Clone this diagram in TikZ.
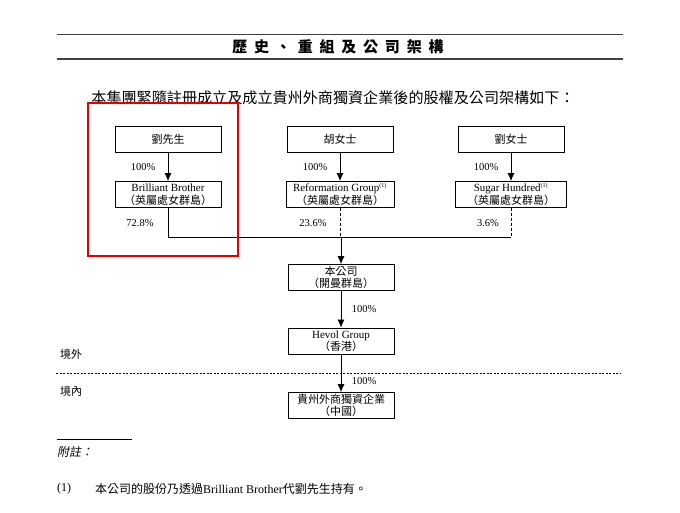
\documentclass[tikz,border=0pt]{standalone}
\usepackage{fontspec}
\setmainfont{Liberation Serif}
\newfontfamily\cjk{Noto Sans CJK TC}
\newfontfamily\cjkit{Noto Sans CJK TC}[FakeSlant=0.2]
\usetikzlibrary{arrows.meta}

\newcommand{\tsp}{\hspace{6.8pt}}
\newcommand{\fnmark}{\textsuperscript{\fontsize{6}{6}\selectfont (1)}}

\tikzset{
  entbox/.style={draw, line width=0.9pt, minimum width=106pt, minimum height=26pt,
    inner sep=1pt, align=center, font=\fontsize{11}{12.5}\selectfont},
  pct/.style={inner sep=0.75pt, font=\fontsize{10.5}{12}\selectfont},
  ownline/.style={line width=0.8pt},
  ownarr/.style={ownline, -{Latex[length=8pt,width=7pt]}},
  ownweak/.style={ownline, dash pattern=on 3pt off 2pt},
}

\begin{document}
\begin{tikzpicture}[x=1pt,y=1pt,yscale=-1]
\useasboundingbox (0,0) rectangle (680,513);

%Straight Lines: header rules
\draw [line width=0.6pt, black!75] (57,34) -- (623,34);
\draw [line width=1.2pt, black!75] (57,59) -- (623,59);

% Text Node
\node (title) at (338,47) {\cjk\bfseries\fontsize{15}{15}\selectfont 歷\tsp 史\tsp 、\tsp 重\tsp 組\tsp 及\tsp 公\tsp 司\tsp 架\tsp 構};
% Text Node
\node (intro) at (333,98) {\cjk\fontsize{15.1}{15.1}\selectfont 本集團緊隨註冊成立及成立貴州外商獨資企業後的股權及公司架構如下：};

%Shape: Rectangle (shareholders)
\node [entbox] (mrliu) at (168,139) {\cjk 劉先生};
\node [entbox] (mshu) at (340,139) {\cjk 胡女士};
\node [entbox] (msliu) at (511,139) {\cjk 劉女士};

%Shape: Rectangle (holding vehicles)
\node [entbox] (bb) at (168,194.5) {Brilliant Brother\\{\cjk （英屬處女群島）}};
\node [entbox, minimum width=108pt] (rg) at (340,194.5) {Reformation Group\fnmark\\{\cjk （英屬處女群島）}};
\node [entbox, minimum width=111pt] (sh) at (511,194.5) {Sugar Hundred\fnmark\\{\cjk （英屬處女群島）}};

%Shape: Rectangle (group companies)
\node [entbox] (co) at (341,277.5) {{\cjk 本公司}\\{\cjk （開曼群島）}};
\node [entbox] (hevol) at (341,341) {Hevol Group\\{\cjk （香港）}};
\node [entbox] (gz) at (341,405.5) {{\cjk 貴州外商獨資企業}\\{\cjk （中國）}};

%Straight Lines
\draw [ownarr] (mrliu) -- (bb);
\draw [ownarr] (mshu) -- (rg);
\draw [ownarr] (msliu) -- (sh);

\coordinate (hline) at (0,237);
\draw [ownline] (bb.south) -- (bb.south |- hline) -- (sh.south |- hline);
\draw [ownweak] (rg.south) -- (rg.south |- hline);
\draw [ownweak] (sh.south) -- (sh.south |- hline);
\draw [ownarr] (co.north |- hline) -- (co.north);
\draw [ownarr] (co) -- (hevol);
\draw [ownarr] (hevol) -- (gz);

% Text Node
\node [pct] (p1) at (143,167) {100\%};
\node [pct] (p2) at (315,167) {100\%};
\node [pct] (p3) at (486,167) {100\%};
\node [pct] (p4) at (140,223) {72.8\%};
\node [pct] (p5) at (313,223) {23.6\%};
\node [pct] (p6) at (488,223) {3.6\%};
\node [pct] (p7) at (364,309) {100\%};
\node [pct] (p8) at (364,381) {100\%};

%Straight Lines: offshore / onshore split
\draw [line width=0.6pt, dash pattern=on 2pt off 1.5pt] (56,373) -- (620,373);
\node (offshore) at (71,354) {\cjk\fontsize{11}{11}\selectfont 境外};
\node (onshore) at (71,391) {\cjk\fontsize{11}{11}\selectfont 境內};

%Shape: Rectangle (highlight)
\draw [color={rgb, 255:red, 228; green, 0; blue, 0}, line width=2.6pt] (88,103) rectangle (238,256);

%Straight Lines: note rule
\draw [line width=0.6pt] (57,439) -- (132,439);
% Text Node
\node [anchor=west, inner sep=0pt] (notes) at (57,452) {\cjkit\fontsize{12}{12}\selectfont 附註：};
\node [anchor=west, inner sep=0pt] (n1) at (57,489) {\fontsize{12}{12}\selectfont (1)};
\node [anchor=west, inner sep=0pt] (n1text) at (95,489) {\fontsize{12}{12}\selectfont{\cjk 本公司的股份乃透過}Brilliant Brother{\cjk 代劉先生持有。}};

\end{tikzpicture}
\end{document}
